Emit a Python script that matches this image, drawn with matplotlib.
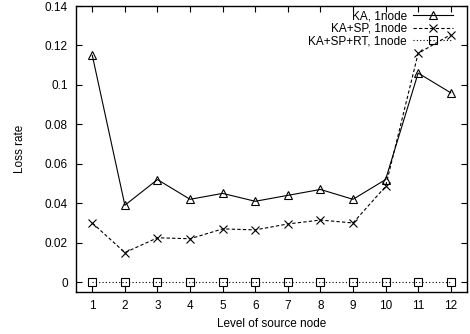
import matplotlib
matplotlib.use('Agg')
import matplotlib.pyplot as plt

niveles = list(range(1, 13))
ka = [0.115, 0.039, 0.052, 0.042, 0.045, 0.041, 0.044, 0.047, 0.042, 0.052, 0.106, 0.096]
ka_sp = [0.030, 0.015, 0.0225, 0.022, 0.027, 0.0265, 0.0295, 0.0315, 0.030, 0.0485, 0.116, 0.1255]
ka_sp_rt = [0.0] * 12
yticks = [0, 0.02, 0.04, 0.06, 0.08, 0.1, 0.12, 0.14]
ylabels = ['0', '0.02', '0.04', '0.06', '0.08', '0.1', '0.12', '0.14']

plt.rcParams['font.family'] = ['Liberation Sans', 'DejaVu Sans']
fig = plt.figure(figsize=(4.7, 3.34), dpi=100)
ax = fig.add_axes([0.1617, 0.1257, 0.832, 0.8563])

ax.plot(niveles, ka, color='black', lw=0.8, ls='-', marker='^', ms=6,
        mfc='none', mec='black', mew=0.8, label='KA, 1node')
ax.plot(niveles, ka_sp, color='black', lw=0.8, ls=(0, (3, 2)), marker='x', ms=6,
        mec='black', mew=0.8, label='KA+SP, 1node')
ax.plot(niveles, ka_sp_rt, color='black', lw=0.8, ls=(0, (1, 2)), marker='s', ms=6,
        mfc='none', mec='black', mew=0.8, label='KA+SP+RT, 1node')

ax.set_xlim(0.5, 12.5)
ax.set_ylim(-0.005, 0.14)
ax.set_xticks(niveles)
ax.set_yticks(yticks)
ax.set_yticklabels(ylabels)
ax.tick_params(direction='in', top=True, right=True, labelsize=8.5, length=4, width=0.8, pad=6)
for s in ax.spines.values():
    s.set_linewidth(1.0)

ax.set_xlabel('Level of source node', fontsize=8.5, labelpad=4)
ax.set_ylabel('Loss rate', fontsize=8.5, labelpad=13)

ax.legend(loc='upper right', bbox_to_anchor=(0.964, 0.986), fontsize=8.5,
          frameon=False, markerfirst=False, handlelength=3.4, handletextpad=0.5,
          labelspacing=0.06, borderaxespad=0, borderpad=0)

fig.savefig('out.png', dpi=100)
